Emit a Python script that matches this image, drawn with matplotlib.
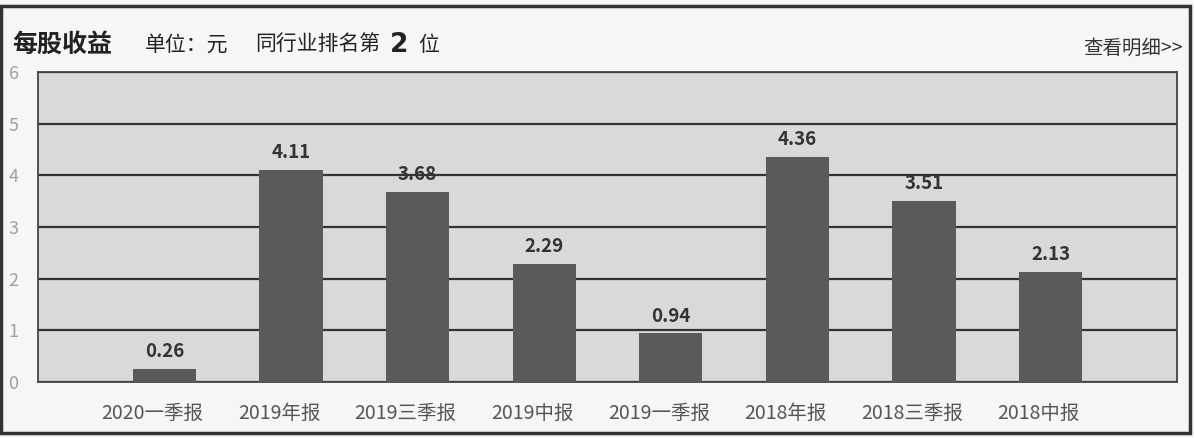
import matplotlib
matplotlib.use("Agg")
import matplotlib.pyplot as plt
from matplotlib.patches import Rectangle
from matplotlib.transforms import ScaledTranslation

plt.rcParams['font.family'] = ['Noto Sans CJK SC', 'DejaVu Sans']

categories = ["2020一季报", "2019年报", "2019三季报", "2019中报", "2019一季报", "2018年报", "2018三季报", "2018中报"]
values = [0.26, 4.11, 3.68, 2.29, 0.94, 4.36, 3.51, 2.13]
value_labels = ["0.26", "4.11", "3.68", "2.29", "0.94", "4.36", "3.51", "2.13"]
yticks = [0, 1, 2, 3, 4, 5, 6]

fig = plt.figure(figsize=(11.94, 4.38), dpi=100)
fig.patch.set_facecolor("#f6f6f6")
ax = fig.add_axes([0.0318, 0.1279, 0.954, 0.7078])
ax.set_facecolor("#d9d9d9")

x = list(range(1, len(categories) + 1))
ax.bar(x, values, width=0.5, color="#5a5a5a", zorder=3)
for xi, v, lab in zip(x, values, value_labels):
    ax.text(xi, v + 0.15, lab, ha="center", va="bottom", fontsize=13.5,
            fontweight="bold", color="#333333", zorder=4)

ax.set_xlim(0, 9)
ax.set_ylim(0, 6)
ax.set_yticks(yticks)
ax.set_yticklabels([str(t) for t in yticks], color="#a0a0a0", fontsize=13)
ax.tick_params(axis="y", length=0, pad=14)
ax.set_xticks(x)
ax.set_xticklabels(categories, fontsize=14, color="#555555")
ax.tick_params(axis="x", length=0, pad=15)
shift = ScaledTranslation(-12 / 100, 0, fig.dpi_scale_trans)
for lbl in ax.get_xticklabels():
    lbl.set_transform(lbl.get_transform() + shift)
ax.yaxis.grid(True, color="#333333", linewidth=1.6, zorder=1)
for s in ax.spines.values():
    s.set_color("#444444")
    s.set_linewidth(1.3)

ty = 0.898
fig.text(0.010, ty, "每股收益", fontsize=18, fontweight="bold", color="#222222", va="center")
fig.text(0.1214, ty, "单位：元", fontsize=15, color="#222222", va="center")
fig.text(0.2136, ty, "同行业排名第", fontsize=15, color="#222222", va="center")
fig.text(0.3266, ty, "2", fontsize=19, fontweight="bold", color="#222222", va="center", family="DejaVu Sans")
fig.text(0.350, ty, "位", fontsize=15, color="#222222", va="center")
fig.text(0.991, 0.89, "查看明细>>", fontsize=14, color="#333333", va="center", ha="right")

# outer frame lines (scan edges)
fig.add_artist(Rectangle((0.001, 0.012), 0.996, 0.975, transform=fig.transFigure,
                         fill=False, edgecolor="#333333", linewidth=2.5))

fig.savefig("out.png", dpi=100)
